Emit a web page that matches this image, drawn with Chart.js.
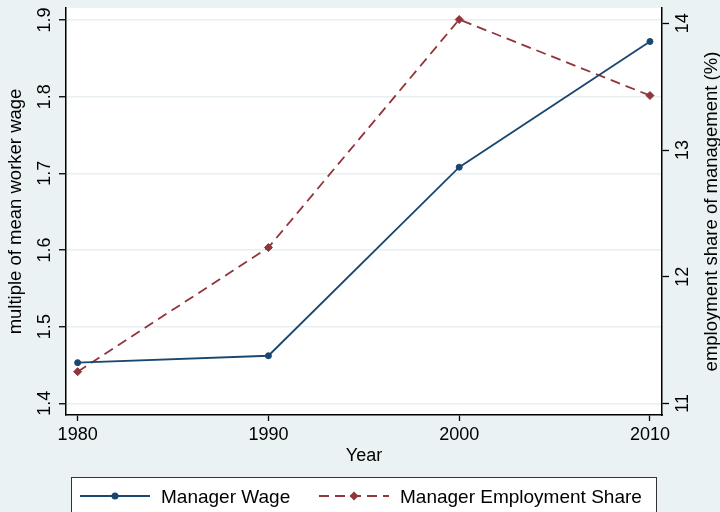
<!DOCTYPE html>
<html>
<head>
<meta charset="utf-8">
<script src="https://cdn.jsdelivr.net/npm/chart.js@4/dist/chart.umd.min.js"></script>
<style>
  html, body { margin: 0; padding: 0; background: #eaf2f3; }
  #wrap { width: 720px; height: 512px; }
</style>
</head>
<body>
<div id="wrap"><canvas id="mgrChart"></canvas></div>
<script>
const years = [1980, 1990, 2000, 2010];
const managerWage = [1.453, 1.462, 1.708, 1.872];
const employmentShare = [11.25, 12.23, 14.03, 13.43];

const yearTicks = [1980, 1990, 2000, 2010];
const wageTicks = [1.4, 1.5, 1.6, 1.7, 1.8, 1.9];
const shareTicks = [11, 12, 13, 14];

const NAVY = '#1a476f';
const MAROON = '#90353b';
const FONT = '"Liberation Sans", Arial, Helvetica, sans-serif';

function rotText(ctx, text, x, y) {
    ctx.save();
    ctx.translate(x, y);
    ctx.rotate(-Math.PI / 2);
    ctx.fillText(text, 0, 0);
    ctx.restore();
}

// light blue-grey page with a white plot region
const backdrop = {
    id: 'backdrop',
    beforeDraw(chart) {
        const { ctx, chartArea: a } = chart;
        ctx.save();
        ctx.fillStyle = '#eaf2f3';
        ctx.fillRect(0, 0, chart.width, chart.height);
        ctx.fillStyle = '#ffffff';
        ctx.fillRect(a.left, a.top, a.right - a.left, a.bottom - a.top);
        ctx.restore();
    }
};

// tick labels and titles, rotated on both y axes
const axisText = {
    id: 'axisText',
    afterDraw(chart) {
        const { ctx, chartArea: a, scales } = chart;
        ctx.save();
        ctx.fillStyle = '#000';
        ctx.textAlign = 'center';
        ctx.textBaseline = 'alphabetic';
        ctx.font = '18px ' + FONT;
        scales.x.ticks.forEach(t => {
            ctx.fillText(String(t.value), scales.x.getPixelForValue(t.value), 440);
        });
        ctx.fillText('Year', (a.left + a.right) / 2, 460.5);
        scales.y.ticks.forEach(t => {
            rotText(ctx, t.value.toFixed(1), 50, scales.y.getPixelForValue(t.value));
        });
        scales.y1.ticks.forEach(t => {
            rotText(ctx, String(t.value), 688, scales.y1.getPixelForValue(t.value));
        });
        ctx.font = '18.5px ' + FONT;
        const midY = (a.top + a.bottom) / 2;
        rotText(ctx, 'multiple of mean worker wage', 21, midY);
        rotText(ctx, 'employment share of management (%)', 717, midY);
        ctx.restore();
    }
};

function marker(ctx, style, x, y, r, color) {
    ctx.beginPath();
    if (style === 'rectRot') {
        ctx.moveTo(x, y - r);
        ctx.lineTo(x + r, y);
        ctx.lineTo(x, y + r);
        ctx.lineTo(x - r, y);
        ctx.closePath();
    } else {
        ctx.arc(x, y, r, 0, Math.PI * 2);
    }
    ctx.fillStyle = color;
    ctx.fill();
}

// boxed legend under the x title
const boxLegend = {
    id: 'boxLegend',
    afterDraw(chart) {
        const { ctx } = chart;
        ctx.save();
        ctx.fillStyle = '#ffffff';
        ctx.fillRect(71.5, 477.5, 585, 40);
        ctx.strokeStyle = '#333';
        ctx.lineWidth = 1;
        ctx.strokeRect(71.5, 477.5, 585, 40);

        const rowY = 496;
        const items = [
            { ds: chart.data.datasets[0], x0: 80, x1: 150, tx: 161 },
            { ds: chart.data.datasets[1], x0: 319, x1: 389, tx: 400 }
        ];
        items.forEach(it => {
            ctx.strokeStyle = it.ds.borderColor;
            ctx.lineWidth = it.ds.borderWidth;
            ctx.setLineDash(it.ds.borderDash || []);
            ctx.beginPath();
            ctx.moveTo(it.x0, rowY);
            ctx.lineTo(it.x1, rowY);
            ctx.stroke();
            ctx.setLineDash([]);
            marker(ctx, it.ds.pointStyle, (it.x0 + it.x1) / 2, rowY, it.ds.pointRadius + 0.5, it.ds.borderColor);
            ctx.fillStyle = '#000';
            ctx.font = '19px ' + FONT;
            ctx.textAlign = 'left';
            ctx.textBaseline = 'alphabetic';
            ctx.fillText(it.ds.label, it.tx, 502.7);
        });
        ctx.restore();
    }
};

const fixedTicks = list => scale => { scale.ticks = list.map(v => ({ value: v })); };

new Chart(document.getElementById('mgrChart'), {
    type: 'line',
    data: {
        datasets: [
            {
                label: 'Manager Wage',
                data: years.map((y, i) => ({ x: y, y: managerWage[i] })),
                yAxisID: 'y',
                borderColor: NAVY,
                backgroundColor: NAVY,
                borderWidth: 1.8,
                pointStyle: 'circle',
                pointRadius: 3,
                pointBorderWidth: 1,
                tension: 0
            },
            {
                label: 'Manager Employment Share',
                data: years.map((y, i) => ({ x: y, y: employmentShare[i] })),
                yAxisID: 'y1',
                borderColor: MAROON,
                backgroundColor: MAROON,
                borderWidth: 1.8,
                borderDash: [10, 6],
                pointStyle: 'rectRot',
                pointRadius: 4,
                pointBorderWidth: 1,
                tension: 0
            }
        ]
    },
    options: {
        responsive: true,
        maintainAspectRatio: false,
        animation: false,
        layout: { padding: { top: 8, left: 0, right: 0, bottom: 37 } },
        plugins: {
            legend: { display: false },
            tooltip: { enabled: false }
        },
        scales: {
            x: {
                type: 'linear',
                min: 1979.39,
                max: 2010.63,
                afterBuildTicks: fixedTicks(yearTicks),
                afterFit: s => { s.height = 60; },
                ticks: { display: false },
                grid: { drawOnChartArea: false, drawTicks: true, tickLength: 6, tickColor: '#000', tickWidth: 1.3 },
                border: { display: true, color: '#000', width: 1.5 }
            },
            y: {
                position: 'left',
                min: 1.3847,
                max: 1.9157,
                afterBuildTicks: fixedTicks(wageTicks),
                afterFit: s => { s.width = 66; },
                ticks: { display: false },
                grid: { color: '#e8eff1', lineWidth: 1.5, drawTicks: true, tickLength: 7, tickColor: '#000', tickWidth: 1.3 },
                border: { display: true, color: '#000', width: 1.5 }
            },
            y1: {
                position: 'right',
                min: 10.908,
                max: 14.121,
                afterBuildTicks: fixedTicks(shareTicks),
                afterFit: s => { s.width = 58; },
                ticks: { display: false },
                grid: { drawOnChartArea: false, drawTicks: true, tickLength: 7, tickColor: '#000', tickWidth: 1.3 },
                border: { display: true, color: '#000', width: 1.5 }
            }
        }
    },
    plugins: [backdrop, axisText, boxLegend]
});
</script>
</body>
</html>
